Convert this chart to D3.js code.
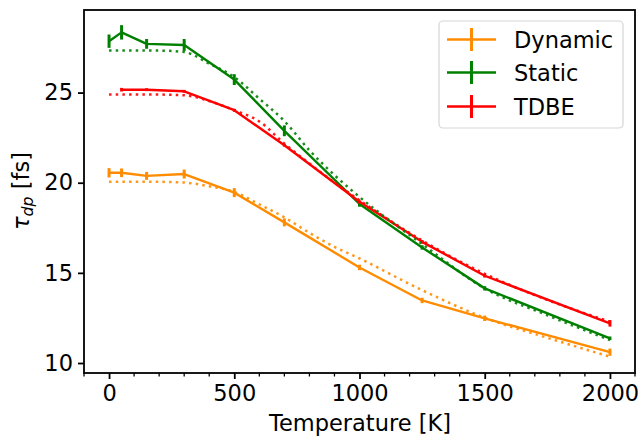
<!DOCTYPE html>
<html><head><meta charset="utf-8">
<script src="https://cdn.jsdelivr.net/npm/d3@7"></script>
<style>
html,body{margin:0;padding:0;background:#fff;}
svg text{font-family:"DejaVu Sans",sans-serif;fill:#000;}
</style></head>
<body>
<svg id="chart" width="638" height="438"></svg>
<script>
// ---- data ----
const temps = [0, 50, 150, 300, 500, 700, 1000, 1250, 1500, 2000];
const dynamicVals = [20.55, 20.55, 20.38, 20.48, 19.45, 17.80, 15.30, 13.47, 12.48, 10.60];
const dynamicErr  = [0.26, 0.24, 0.22, 0.25, 0.25, 0.22, 0.15, 0.15, 0.15, 0.20];
const staticVals  = [27.85, 28.34, 27.70, 27.64, 25.72, 22.88, 18.82, 16.41, 14.14, 11.37];
const staticErr   = [0.37, 0.40, 0.27, 0.33, 0.30, 0.30, 0.15, 0.12, 0.12, 0.10];
const tdbeTemps   = [50, 150, 300, 500, 700, 1000, 1250, 1500, 2000];
const tdbeVals    = [25.16, 25.16, 25.07, 24.02, 22.08, 18.94, 16.72, 14.84, 12.20];
const tdbeErr     = [0.10, 0.08, 0.08, 0.08, 0.08, 0.08, 0.10, 0.10, 0.18];

// fitted (dotted) curves
const fitTemps    = [0, 100, 200, 300, 400, 500, 600, 700, 800, 900, 1000, 1250, 1500, 1750, 2000];
const dynamicFit  = [20.06, 20.06, 20.05, 20.01, 19.80, 19.49, 18.80, 18.08, 17.22, 16.44, 15.80, 14.04, 12.51, 11.40, 10.35];
const staticFit   = [27.34, 27.34, 27.33, 27.25, 26.60, 25.86, 24.66, 23.42, 21.80, 20.42, 19.21, 16.60, 14.14, 12.65, 11.27];
const tdbeFit     = [24.90, 24.90, 24.89, 24.85, 24.53, 24.02, 23.40, 22.17, 21.06, 20.01, 19.03, 16.80, 14.95, 13.50, 12.29];

const xTicks = [0, 500, 1000, 1500, 2000];
const yTicks = [10, 15, 20, 25];
const seriesNames = ["Dynamic", "Static", "TDBE"];
const colors = ["#ff8c00", "#008000", "#ff0000"];

// ---- layout ----
const svg = d3.select("#chart");
const L = 84, R = 635, T = 10, B = 373;
const x = d3.scaleLinear().domain([-100, 2100]).range([L, R]);
const y = d3.scaleLinear().domain([9.446, 29.58]).range([B, T]);
const FS = 22.5;

const series = [
  {name: seriesNames[0], color: colors[0], t: temps, v: dynamicVals, e: dynamicErr, ft: fitTemps, fv: dynamicFit},
  {name: seriesNames[1], color: colors[1], t: temps, v: staticVals, e: staticErr, ft: fitTemps, fv: staticFit},
  {name: seriesNames[2], color: colors[2], t: tdbeTemps, v: tdbeVals, e: tdbeErr, ft: fitTemps, fv: tdbeFit}
];

const line = d3.line().x(d => x(d[0])).y(d => y(d[1]));
const curve = d3.line().x(d => x(d[0])).y(d => y(d[1])).curve(d3.curveMonotoneX);

const plot = svg.append("g");
series.forEach(s => {
  const pts = s.t.map((t, i) => [t, s.v[i], s.e[i]]);
  plot.append("path").datum(pts).attr("d", line)
    .attr("fill", "none").attr("stroke", s.color).attr("stroke-width", 2.4)
    .attr("stroke-linejoin", "round");
  plot.selectAll(null).data(pts).enter().append("line")
    .attr("x1", d => x(d[0])).attr("x2", d => x(d[0]))
    .attr("y1", d => y(d[1] - d[2])).attr("y2", d => y(d[1] + d[2]))
    .attr("stroke", s.color).attr("stroke-width", 3);
});
series.forEach(s => {
  const fpts = s.ft.map((t, i) => [t, s.fv[i]]);
  plot.append("path").datum(fpts).attr("d", curve)
    .attr("fill", "none").attr("stroke", s.color).attr("stroke-width", 2.5)
    .attr("stroke-dasharray", "2.5,4.17").attr("opacity", 0.9);
});

// ---- axes ----
const xAxis = svg.append("g").attr("transform", `translate(0,${B})`)
  .call(d3.axisBottom(x).tickValues(xTicks).tickSize(6).tickPadding(6).tickFormat(d3.format("d")));
xAxis.select(".domain").remove();
xAxis.selectAll(".tick line").attr("stroke", "#000").attr("stroke-width", 1.8);
xAxis.selectAll(".tick text").attr("font-size", FS).attr("font-family", "DejaVu Sans");

const minor = d3.range(-100, 2101, 100).filter(v => v % 500 !== 0);
svg.append("g").selectAll("line").data(minor).enter().append("line")
  .attr("x1", d => x(d)).attr("x2", d => x(d)).attr("y1", B).attr("y2", B + 3.5)
  .attr("stroke", "#000").attr("stroke-width", 1.3);

const yAxis = svg.append("g").attr("transform", `translate(${L},0)`)
  .call(d3.axisLeft(y).tickValues(yTicks).tickSize(6).tickPadding(5).tickFormat(d3.format("d")));
yAxis.select(".domain").remove();
yAxis.selectAll(".tick line").attr("stroke", "#000").attr("stroke-width", 1.8);
yAxis.selectAll(".tick text").attr("font-size", FS).attr("font-family", "DejaVu Sans");

svg.append("rect").attr("x", L).attr("y", T).attr("width", R - L).attr("height", B - T)
  .attr("fill", "none").attr("stroke", "#000").attr("stroke-width", 1.8);

svg.append("text").attr("x", (L + R) / 2 + 0.5).attr("y", 431)
  .attr("text-anchor", "middle").attr("font-size", FS).text("Temperature [K]");

const yl = svg.append("text").attr("transform", "translate(29,191) rotate(-90)")
  .attr("text-anchor", "middle").attr("font-size", FS);
yl.append("tspan").attr("font-style", "italic").text("τ");
yl.append("tspan").attr("font-style", "italic").attr("font-size", FS * 0.7).attr("dy", 4).text("dp");
yl.append("tspan").attr("dy", -4).text(" [fs]");

// ---- legend ----
const lg = svg.append("g");
lg.append("rect").attr("x", 439).attr("y", 21).attr("width", 184).attr("height", 107)
  .attr("rx", 4).attr("fill", "#fff").attr("fill-opacity", 0.8)
  .attr("stroke", "#d5d5d5").attr("stroke-width", 1.2);
const rows = [39.5, 72.5, 106.5];
series.forEach((s, i) => {
  const ry = rows[i];
  lg.append("line").attr("x1", 447).attr("x2", 496).attr("y1", ry).attr("y2", ry)
    .attr("stroke", s.color).attr("stroke-width", 2.4);
  lg.append("line").attr("x1", 471.5).attr("x2", 471.5).attr("y1", ry - 11.5).attr("y2", ry + 11.5)
    .attr("stroke", s.color).attr("stroke-width", 3);
  lg.append("text").attr("x", 514).attr("y", ry + 8).attr("font-size", FS).text(s.name);
});
</script>
</body></html>
